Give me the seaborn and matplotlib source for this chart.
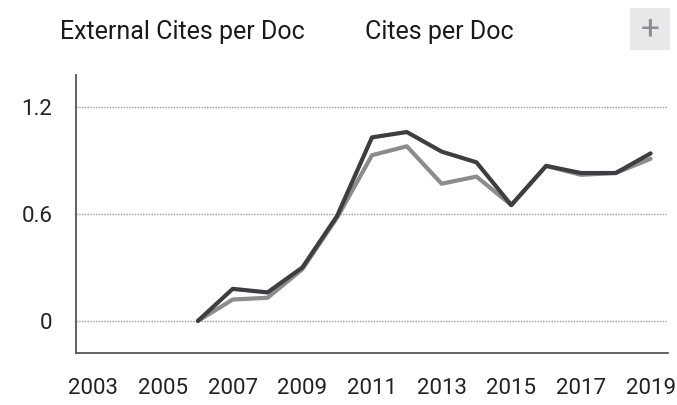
import pandas as pd
import matplotlib.pyplot as plt
import seaborn as sns
from matplotlib.patches import Rectangle

# values
years = [2006, 2007, 2008, 2009, 2010, 2011, 2012, 2013, 2014, 2015, 2016, 2017, 2018, 2019]
cites_per_doc = [0.0, 0.18, 0.16, 0.30, 0.59, 1.03, 1.06, 0.95, 0.89, 0.65, 0.87, 0.83, 0.83, 0.94]
external_cites = [0.0, 0.12, 0.13, 0.29, 0.58, 0.93, 0.98, 0.77, 0.81, 0.65, 0.87, 0.82, 0.83, 0.91]
series_names = ['External Cites per Doc', 'Cites per Doc']
series_colors = ['#8c8c8c', '#3c3e42']
x_ticks = [2003, 2005, 2007, 2009, 2011, 2013, 2015, 2017, 2019]
y_ticks = [0, 0.6, 1.2]
y_labels = ['0', '0.6', '1.2']

df = pd.DataFrame({
    'Year': years * 2,
    'Value': external_cites + cites_per_doc,
    'Series': [series_names[0]] * len(years) + [series_names[1]] * len(years),
})

sns.set_style('white')
plt.rcParams['font.family'] = ['Roboto', 'DejaVu Sans']

fig = plt.figure(figsize=(6.77, 4.05), dpi=100)
ax = fig.add_axes([76 / 677, 1 - 353 / 405, 592 / 677, 278 / 405])

sns.lineplot(data=df, x='Year', y='Value', hue='Series', hue_order=series_names,
             palette=series_colors, linewidth=3, legend=False, ax=ax)

ax.set_xlim(2002.5, 2019.5)
ax.set_ylim(-0.18, 1.38)
ax.set_xticks(x_ticks)
ax.set_yticks(y_ticks)
ax.set_yticklabels(y_labels)
ax.set_xlabel('')
ax.set_ylabel('')
ax.tick_params(axis='both', length=0, labelsize=16, colors='#222222')
ax.tick_params(axis='x', pad=18)
ax.tick_params(axis='y', pad=17)
ax.grid(axis='y', linestyle=(0, (1, 1)), color='#9a9a9a', linewidth=1)
ax.set_axisbelow(True)
sns.despine(ax=ax)
for side in ['left', 'bottom']:
    ax.spines[side].set_color('#55585c')
    ax.spines[side].set_linewidth(1.3)

# legend text along the top
fig.text(60 / 677, 1 - 32 / 405, series_names[0], fontsize=18, color='#1a1a1a', va='center')
fig.text(365 / 677, 1 - 32 / 405, series_names[1], fontsize=18, color='#1a1a1a', va='center')

# plus button box in the top right corner
fig.patches.append(Rectangle((630 / 677, 1 - 50 / 405), 40 / 677, 42 / 405,
                             transform=fig.transFigure, facecolor='#e6e8ea', edgecolor='none'))
fig.text(650 / 677, 1 - 30 / 405, '+', fontsize=24, color='#8a8e94', ha='center', va='center')

fig.savefig('out.png', dpi=100)
